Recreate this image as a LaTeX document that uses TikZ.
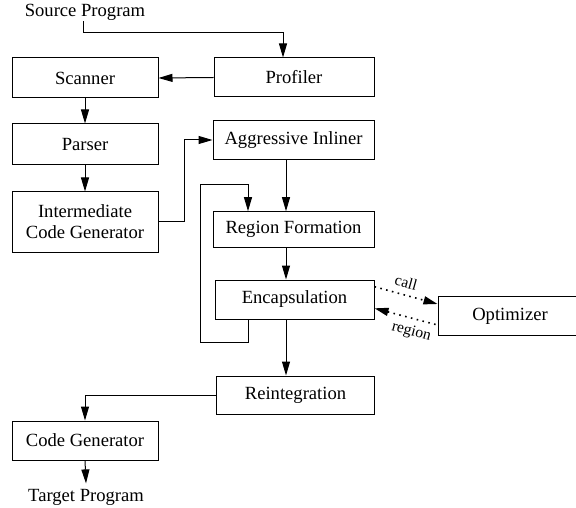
\documentclass[tikz,border=0pt]{standalone}
\usepackage{fontspec}
\setmainfont{Liberation Serif}
\usetikzlibrary{arrows.meta,positioning}

\begin{document}
\begin{tikzpicture}[
    x=0.5pt, y=-0.5pt,
    >={Triangle[length=7pt,width=4pt]},
    every node/.style={font=\fontsize{9.3}{10.5}\selectfont},
    block/.style={draw, line width=0.5pt, inner sep=0pt, align=center},
    flow/.style={->, line width=0.5pt},
    msg/.style={dash pattern=on 0.8pt off 2.2pt, line width=0.8pt},
    lbl/.style={font=\fontsize{7.8}{9}\selectfont, sloped, inner sep=1pt},
]
\clip (0,0) rectangle (576,507);

% front end
\node (source) [inner sep=0pt] at (85,12.7) {Source Program};
\node (scanner) [block, minimum width=73pt, minimum height=20pt] at (85,78) {Scanner};
\node (parser) [block, minimum width=73pt, minimum height=20.5pt] at (85,144.5) {Parser};
\node (icg) [block, minimum width=73pt, minimum height=30pt] at (85,222) {Intermediate\\Code Generator};

% region based part
\node (profiler) [block, minimum width=80pt, minimum height=19.5pt] at (294,77.5) {Profiler};
\node (inliner) [block, minimum width=80.5pt, minimum height=19.7pt] at (293.5,140) {Aggressive Inliner};
\node (region) [block, minimum width=80.5pt, minimum height=17.8pt] at (293.5,229.5) {Region Formation};
\node (encaps) [block, minimum width=79.5pt, minimum height=19.5pt] at (294.5,299.5) {Encapsulation};
\node (optimizer) [block, minimum width=72pt, minimum height=19.9pt] at (510,316) {Optimizer};
\node (reint) [block, minimum width=79pt, minimum height=19pt] at (295.5,395) {Reintegration};

% back end
\node (codegen) [block, minimum width=73pt, minimum height=19.5pt] at (85,440.5) {Code Generator};
\node (target) [inner sep=0pt, outer sep=3pt] at (86,497.5) {Target Program};

\coordinate (srcbend) at (283,33);
\coordinate (rx) at (286,0);
\coordinate (lx) at (248,0);
\coordinate (loopdown) at (200,342);
\coordinate (loopup) at (200,185);

\draw[flow] ([xshift=-1pt]source.south) |- (srcbend) -- (profiler.north -| srcbend);
\draw[flow] (profiler.west) -- (scanner.east);
\draw[flow] (scanner.south) -- (parser.north);
\draw[flow] (parser.south) -- (icg.north);
\draw[flow] (icg.east) -- ++(13pt,0) |- (inliner.west);
\draw[flow] (inliner.south -| rx) -- (region.north -| rx);
\draw[flow] (region.south -| rx) -- (encaps.north -| rx);
\draw[flow] (encaps.south -| lx) |- (loopdown) -- (loopup) -| (region.north -| lx);
\draw[flow] (encaps.south -| rx) -- (reint.north -| rx);
\draw[flow] (reint.west) -| (codegen.north);
\draw[flow] (codegen.south) -- (target.north);

% calls to the optimizer
\draw[msg, ->] ([yshift=6.4pt]encaps.east) -- node[lbl, above=2pt, pos=0.45] {call} ([yshift=6pt]optimizer.west);
\draw[msg, <-] ([yshift=-4.4pt]encaps.east) -- node[lbl, below=2pt, pos=0.64] {region} ([yshift=-4.5pt]optimizer.west);
\end{tikzpicture}
\end{document}
